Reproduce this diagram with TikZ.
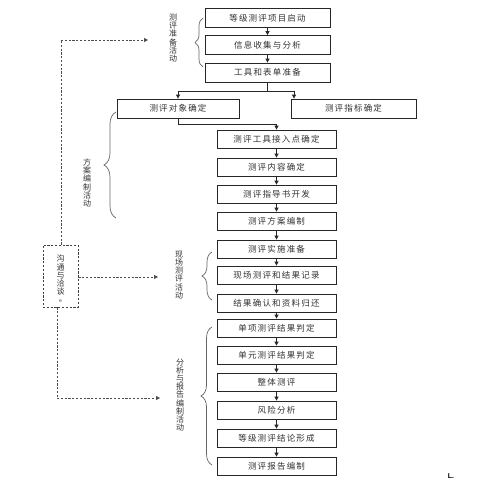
\documentclass[tikz,border=0pt]{standalone}
\usepackage{fontspec}
\newfontfamily\cjk[LetterSpace=14]{Noto Sans CJK SC}
\newfontfamily\cjkv{Noto Sans CJK SC}
\setmainfont{Liberation Sans}
\usetikzlibrary{arrows.meta,decorations.pathreplacing}
\newcommand\myvsetup{\lineskiplimit=-100pt\relax\lineskip=0pt\relax}
\begin{document}
\begin{tikzpicture}[x=1pt,y=-1pt,
  box/.style={draw=black!85,line width=0.8pt,minimum height=19pt,inner sep=0pt,
    font=\cjk\fontsize{8.5}{9}\selectfont,text=black!80},
  ubox/.style={box,minimum width=125pt},
  lbox/.style={box,minimum width=119pt,minimum height=18pt},
  arr/.style={draw=black!85,line width=0.8pt,-{Triangle[length=4pt,width=4pt]}},
  ln/.style={draw=black!85,line width=0.8pt},
  brc/.style={draw=black!60,line width=0.7pt,decorate},
  dsh/.style={draw=black!70,line width=0.8pt,dash pattern=on 2.2pt off 1.6pt},
  darr/.style={dsh,-{Triangle[length=4pt,width=4pt]}},
  vlab/.style={align=center,inner sep=0pt,text=black!80,
    font=\cjkv\fontsize{8}{8.2}\selectfont\myvsetup}]
\useasboundingbox[fill=white] (0,0) rectangle (497,482);

% upper boxes
\node[ubox] (b1) at (267.5,18) {等级测评项目启动};
\node[ubox] (b2) at (267.5,45) {信息收集与分析};
\node[ubox] (b3) at (267.5,72.5) {工具和表单准备};
\node[box,minimum width=122pt] (b4) at (178,108.5) {测评对象确定};
\node[box,minimum width=125pt] (b5) at (353.5,108.5) {测评指标确定};

% lower boxes
\node[lbox] (c1) at (276.5,139) {测评工具接入点确定};
\node[lbox] (c2) at (276.5,167) {测评内容确定};
\node[lbox] (c3) at (276.5,194) {测评指导书开发};
\node[lbox] (c4) at (276.5,221) {测评方案编制};
\node[lbox] (c5) at (276.5,249) {测评实施准备};
\node[lbox] (c6) at (276.5,275) {现场测评和结果记录};
\node[lbox] (c7) at (276.5,303) {结果确认和资料归还};
\node[lbox] (c8) at (276.5,328) {单项测评结果判定};
\node[lbox] (c9) at (276.5,355) {单元测评结果判定};
\node[lbox] (c10) at (276.5,382) {整体测评};
\node[lbox] (c11) at (276.5,410) {风险分析};
\node[lbox] (c12) at (276.5,438) {等级测评结论形成};
\node[lbox] (c13) at (276.5,466) {测评报告编制};

% connectors
\draw[arr] (b1) -- (b2);
\draw[arr] (b2) -- (b3);
\coordinate (j1) at (267.5,91);
\coordinate (r1) at (294,91);
\draw[ln] (b3.south) -- (j1);
\draw[arr] (j1) -| (b4.north);
\draw[ln] (j1) -- (r1);
\draw[arr] (r1) -- (r1 |- b5.north);
\coordinate (j2) at (276.5,124);
\draw[arr] (b4.south) |- (j2) -- (c1.north);
\foreach \a/\b in {c1/c2,c2/c3,c3/c4,c4/c5,c5/c6,c6/c7,c7/c8,c8/c9,c9/c10,c10/c11,c11/c12,c12/c13}
  \draw[arr] (\a) -- (\b);

% braces
\draw[brc,decoration={brace,amplitude=8pt}] (203,67) -- (203,18);
\draw[brc,decoration={brace,amplitude=12pt}] (116,218) -- (116,112);
\draw[brc,decoration={brace,amplitude=10pt}] (212,300) -- (212,252);
\draw[brc,decoration={brace,amplitude=11pt}] (212,465) -- (212,327);

% vertical labels
\node[vlab] (l1) at (173,38) {测\\评\\准\\备\\活\\动};
\node[vlab] (l2) at (87,183) {方\\案\\编\\制\\活\\动};
\node[vlab] (l3) at (179,275) {现\\场\\测\\评\\活\\动};
\node[vlab] (l4) at (180,395) {分\\析\\与\\报\\告\\编\\制\\活\\动};

% communication box
\node[draw=black!75,line width=0.8pt,dash pattern=on 2.2pt off 1.6pt,
  minimum width=35pt,minimum height=62pt,inner sep=0pt] (cm) at (60.5,276) {};
\node[vlab] (cmt) at (60.5,279) {沟\\通\\与\\洽\\谈\\{\fontsize{5}{5}\selectfont e}};

% dashed connectors
\coordinate (t1) at (61,40);
\coordinate (t2) at (148,40);
\draw[dsh] (cm.north -| t1) -- (t1);
\draw[darr] (t1) -- (t2);
\coordinate (m2) at (158,277);
\draw[darr] (cm.east |- m2) -- (m2);
\coordinate (d1) at (57,398);
\coordinate (d2) at (160,398);
\draw[dsh] (cm.south -| d1) -- (d1);
\draw[darr] (d1) -- (d2);

% stray mark
\node[inner sep=0pt,font=\fontsize{7}{7}\selectfont\bfseries] (mk) at (451,476) {L.};
\end{tikzpicture}
\end{document}
